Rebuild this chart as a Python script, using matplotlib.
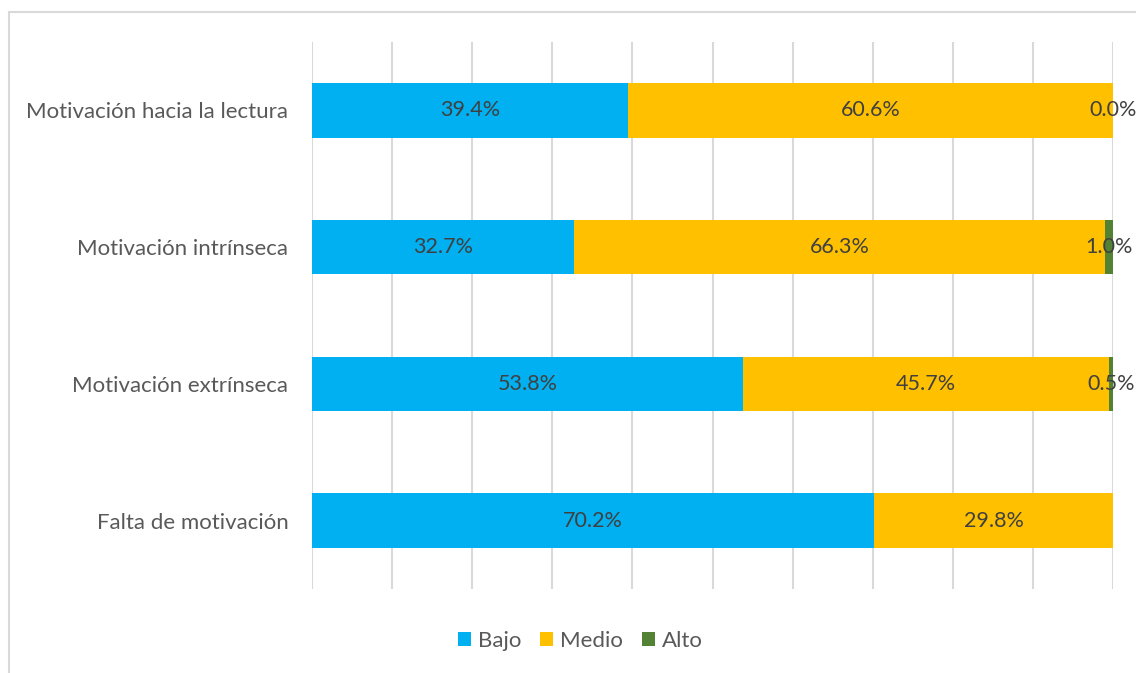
import matplotlib.pyplot as plt
from matplotlib.patches import Rectangle
import numpy as np

plt.rcParams['font.family'] = ['Lato', 'DejaVu Sans']

# Dimensiones y niveles (porcentajes)
categorias = ['Motivación hacia la lectura', 'Motivación intrínseca',
              'Motivación extrínseca', 'Falta de motivación']
bajo = [39.4, 32.7, 53.8, 70.2]
medio = [60.6, 66.3, 45.7, 29.8]
alto = [0.0, 1.0, 0.5, None]

niveles = ['Bajo', 'Medio', 'Alto']
colores = ['#00B0F0', '#FFC000', '#548235']

fig = plt.figure(figsize=(11.36, 6.73), dpi=100)
ax = fig.add_axes([312 / 1136, 1 - 589 / 673, (1113 - 312) / 1136, (589 - 42) / 673])

y = np.arange(len(categorias))
izquierda = np.zeros(len(categorias))
for nombre, valores, color in zip(niveles, [bajo, medio, alto], colores):
    v = np.array([0.0 if x is None else x for x in valores])
    ax.barh(y, v, left=izquierda, height=0.4, color=color, label=nombre, zorder=2)
    for i, x in enumerate(valores):
        if x is not None:
            ax.text(izquierda[i] + v[i] / 2, y[i], f'{x:.1f}%', ha='center', va='center',
                    fontsize=15.5, color='#404040', zorder=3)
    izquierda += v

ax.set_xlim(0, 100)
ax.set_ylim(len(categorias) - 0.5, -0.5)
ax.set_xticks(np.arange(0, 101, 10))
ax.set_xticklabels([])
ax.tick_params(axis='x', length=0)
ax.tick_params(axis='y', length=0, pad=17)
ax.set_yticks(y)
ax.set_yticklabels(categorias, fontsize=16, color='#595959')
ax.grid(axis='x', color='#D9D9D9', linewidth=1.5, zorder=0)
for s in ax.spines.values():
    s.set_visible(False)

fig.legend(loc='center', bbox_to_anchor=(580 / 1136, 1 - 641 / 673), ncol=3, frameon=False,
           fontsize=16, handlelength=0.6, handleheight=0.6, handletextpad=0.3,
           columnspacing=0.85, labelcolor='#595959')

# Marco del gráfico
fig.patches.append(Rectangle((9 / 1136, -0.1), 1.2, 1 - 12 / 673 + 0.1, transform=fig.transFigure,
                             fill=False, edgecolor='#D9D9D9', linewidth=1.5))

fig.savefig('out.png', dpi=100)
